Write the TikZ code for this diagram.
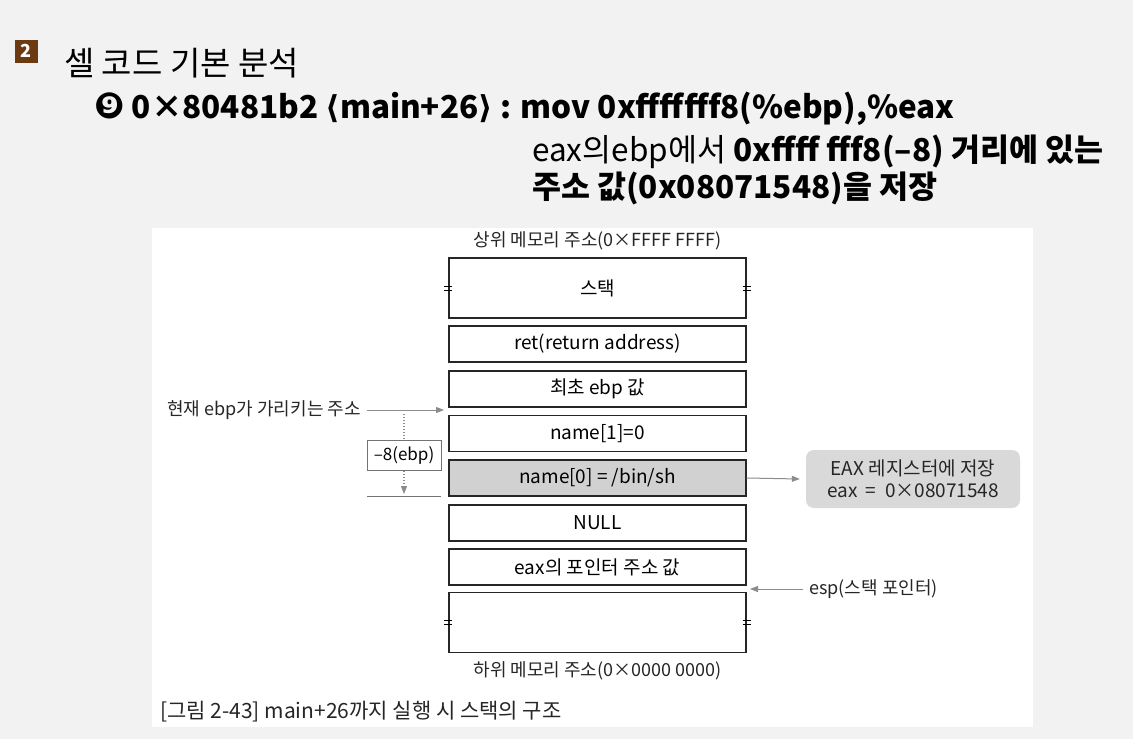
\documentclass[tikz,border=0pt]{standalone}
\usepackage{fontspec}
\setmainfont{Noto Sans CJK KR}
\newfontfamily\dingfont{DejaVu Sans}
\usetikzlibrary{arrows.meta}
\definecolor{headbrown}{HTML}{6B3A10}
\definecolor{pagegray}{HTML}{F2F2F2}

\begin{document}
\begin{tikzpicture}[x=1pt,y=-1pt,
        cell/.style={draw=black!85,line width=1.3pt,minimum width=297pt,
            minimum height=36pt,inner sep=0pt,font=\fontsize{19}{22}\selectfont},
        tall/.style={cell,minimum height=60pt},
        note/.style={inner sep=0pt,font=\fontsize{18}{21}\selectfont,text=black!85},
        pointer/.style={draw=black!45,line width=1pt,
            -{Triangle[length=8pt,width=6pt]}}]
    \fill[pagegray] (0,0) rectangle (1133,739);
    \useasboundingbox (0,0) rectangle (1133,739);
    \fill[white] (152,228) rectangle (1033,727);

    % heading
    \node[fill=headbrown,text=white,minimum size=23pt,inner sep=0pt,
        font=\bfseries\fontsize{18}{20}\selectfont] (num) at (26,51) {2};
    \node[anchor=west,inner sep=0pt,font=\fontsize{33}{38}\selectfont] (title)
        at (64,63) {셀 코드 기본 분석};
    \node[anchor=west,inner sep=0pt,font=\bfseries\fontsize{31.5}{36}\selectfont] (step)
        at (94,109) {{\dingfont\fontsize{36}{38}\selectfont ❾} 0×80481b2 {\dingfont ⟨}main+26{\dingfont ⟩} : mov 0xfffffff8(\%ebp),\%eax};
    \node[anchor=west,inner sep=0pt,font=\fontsize{31.5}{36}\selectfont] (expl)
        at (532,152) {eax의ebp에서 \textbf{0xffff fff8(–8) 거리에 있는}};
    \node[anchor=west,inner sep=0pt,font=\bfseries\fontsize{31.5}{36}\selectfont] (expl2)
        at (532,188) {주소 값(0x08071548)을 저장};

	% stack cells
    \node[tall] (stack) at (597.5,288) {스택};
    \node[cell] (ret) at (597.5,344) {ret(return address)};
    \node[cell] (sfp) at (597.5,389) {최초 ebp 값};
    \node[cell] (name1) at (597.5,433.5) {name[1]=0};
    \node[cell,fill=black!18] (name0) at (597.5,478) {name[0] = /bin/sh};
    \node[cell] (null) at (597.5,523) {NULL};
    \node[cell] (ptr) at (597.5,567) {eax의 포인터 주소 값};
    \node[tall] (bottom) at (597.5,622.5) {};

    % break marks
    \foreach \n in {stack,bottom} {
        \foreach \s in {west,east} {
            \draw[line width=0.8pt] ([xshift=-4pt,yshift=2pt]\n.\s) -- ++(8,0);
            \draw[line width=0.8pt] ([xshift=-4pt,yshift=-2pt]\n.\s) -- ++(8,0);
        }
    }

    \node[note,above=7pt] (high) at (stack.north) {상위 메모리 주소(0×FFFF FFFF)};
    \node[note,below=8pt] (low) at (bottom.south) {하위 메모리 주소(0×0000 0000)};
    \node[note,anchor=west,font=\fontsize{21}{24}\selectfont] (caption) at (160,712)
        {[그림 2-43] main+26까지 실행 시 스택의 구조};

    % ebp side
    \node[note,anchor=east] (ebp) at (361,410) {현재 ebp가 가리키는 주소};
    \coordinate (ebptip) at (444,410);
    \draw[pointer] ([xshift=6pt]ebp.east) -- (ebptip);
    \coordinate (dtop) at (404,414);
    \coordinate (dbot) at (404,494);
    \draw[pointer,dotted,line width=1.2pt] (dtop) -- (dbot);
    \node[draw=black!55,line width=1pt,fill=white,minimum width=74pt,minimum height=30pt,
        inner sep=0pt,font=\fontsize{17}{20}\selectfont] (off) at (404,455) {–8(ebp)};
    \coordinate (la) at (367,496);
    \coordinate (lb) at (441,496);
    \draw[black!55,line width=1pt] (la) -- (lb);

    % eax side
    \node[fill=black!15,rounded corners=8pt,minimum width=214pt,minimum height=58pt,
        inner sep=0pt,align=center,font=\fontsize{19}{22}\selectfont,text=black!85] (eax)
        at (913,479) {EAX 레지스터에 저장\\eax \ = \ 0×08071548};
    \draw[pointer] (name0.east) -- ([xshift=-6pt]eax.west);

    % esp
    \node[note,anchor=west] (esp) at (809,589) {esp(스택 포인터)};
    \draw[pointer] ([xshift=-6pt]esp.west) -- (750,589);
\end{tikzpicture}
\end{document}
